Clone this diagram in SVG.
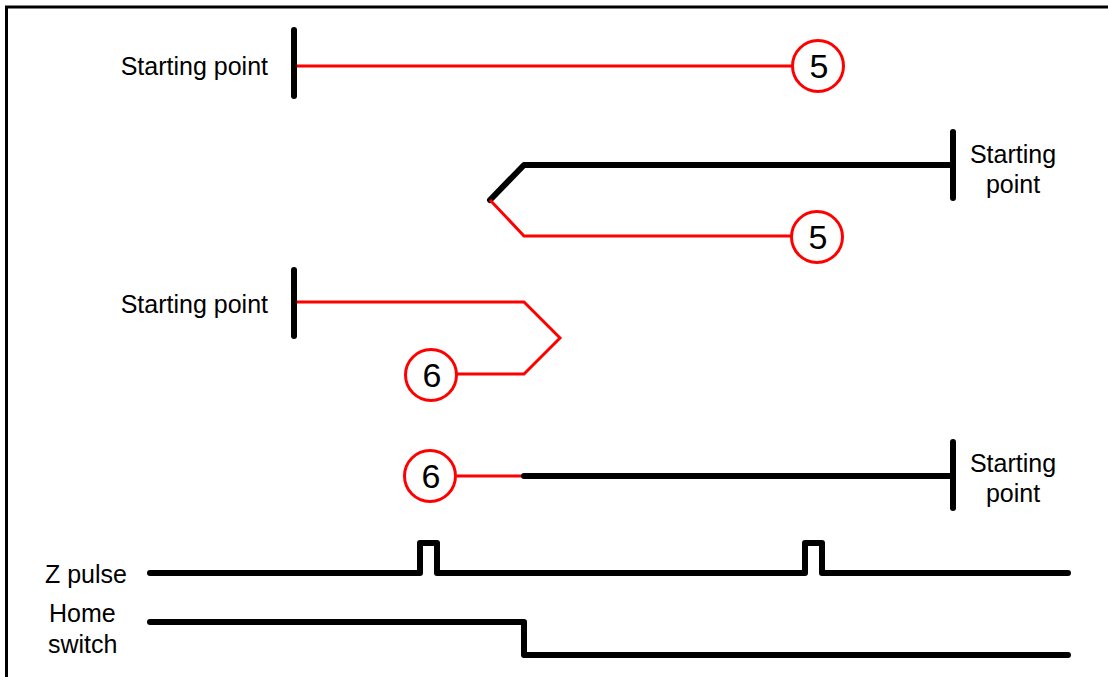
<svg xmlns="http://www.w3.org/2000/svg" width="1108" height="677" viewBox="0 0 1108 677">
<style>
  .lbl { font-family: "Liberation Sans", Arial, sans-serif; font-size: 25px; fill: #000; }
  .num { font-family: "Liberation Sans", Arial, sans-serif; font-size: 34px; fill: #000; text-anchor: middle; }
  .red { fill: none; stroke: #ff0000; stroke-width: 3; stroke-linejoin: miter; }
  .blk { fill: none; stroke: #000; stroke-width: 6; stroke-linecap: round; stroke-linejoin: round; }
  .circ { fill: #fff; stroke: #ff0000; stroke-width: 3; }
</style>
<rect width="1108" height="677" fill="#fff"/>
<path d="M6.5,677 V7 H1108" fill="none" stroke="#000" stroke-width="3"/>

<g id="connectors">
  <path class="red" d="M294,66 H792"/>
  <path class="blk" d="M953,165 H524 L490,200"/>
  <path class="red" d="M490,200 L524,236 H791"/>
  <path class="red" d="M294,302 H524 L560,338 L524,374 H457"/>
  <path class="red" d="M457,476 H524"/>
  <path class="blk" d="M524,476 H953"/>
</g>

<g id="row1">
  <text class="lbl" x="268" y="75" text-anchor="end">Starting point</text>
  <path class="blk" d="M294,30 V96"/>
  <g id="c5a"><circle class="circ" cx="818" cy="66" r="25.5"/><text class="num" x="819" y="78">5</text></g>
</g>

<g id="row2">
  <path class="blk" d="M953,132 V198"/>
  <text class="lbl" x="1013" y="163" text-anchor="middle">Starting</text>
  <text class="lbl" x="1013" y="193" text-anchor="middle">point</text>
  <g id="c5b"><circle class="circ" cx="817" cy="237" r="25.5"/><text class="num" x="818" y="249">5</text></g>
</g>

<g id="row3">
  <text class="lbl" x="268" y="313" text-anchor="end">Starting point</text>
  <path class="blk" d="M294,270 V336"/>
  <g id="c6a"><circle class="circ" cx="431" cy="375" r="25.5"/><text class="num" x="432" y="387">6</text></g>
</g>

<g id="row4">
  <path class="blk" d="M953,442 V508"/>
  <text class="lbl" x="1013" y="472" text-anchor="middle">Starting</text>
  <text class="lbl" x="1013" y="502" text-anchor="middle">point</text>
  <g id="c6b"><circle class="circ" cx="430" cy="476" r="25.5"/><text class="num" x="431" y="488">6</text></g>
</g>

<g id="zpulse">
  <text class="lbl" x="45" y="583">Z pulse</text>
  <path class="blk" d="M150,573 H420 V543 H437 V573 H805 V543 H822 V573 H1068"/>
</g>

<g id="homeswitch">
  <text class="lbl" x="49" y="622">Home</text>
  <text class="lbl" x="48" y="653">switch</text>
  <path class="blk" d="M150,622 H524 V655 H1068"/>
</g>
</svg>
